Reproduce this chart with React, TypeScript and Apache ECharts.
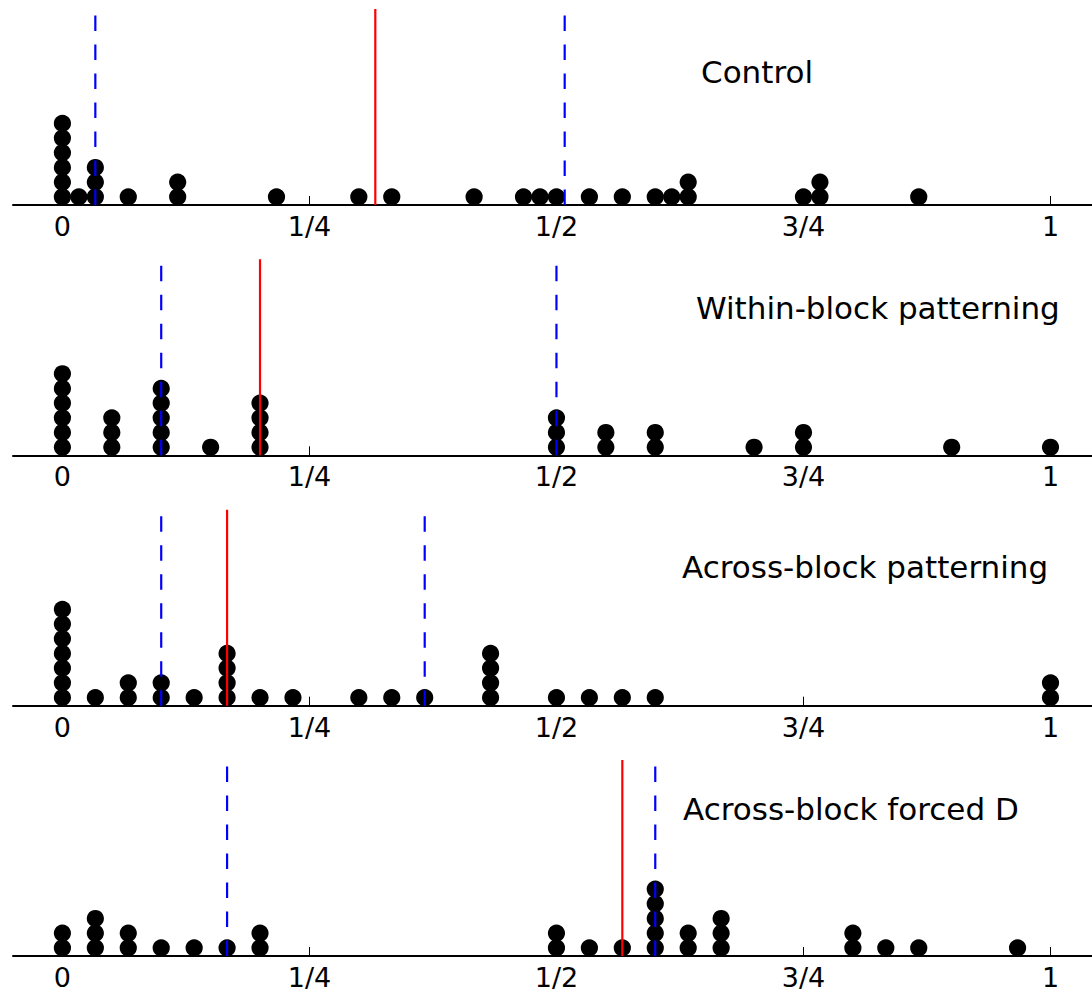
import React, { useEffect, useRef } from 'react';
import * as echarts from 'echarts';

// Titles of the four panels
const panelTitles = ['Control', 'Within-block patterning', 'Across-block patterning', 'Across-block forced D'];

// Dot positions, in sixtieths of the unit interval, and the number of stacked dots at each
const controlPositions = [0, 1, 2, 4, 7, 13, 18, 20, 25, 28, 29, 30, 32, 34, 36, 37, 38, 45, 46, 52];
const controlCounts = [6, 1, 3, 1, 2, 1, 1, 1, 1, 1, 1, 1, 1, 1, 1, 1, 2, 1, 2, 1];

const withinPositions = [0, 3, 6, 9, 12, 30, 33, 36, 42, 45, 54, 60];
const withinCounts = [6, 3, 5, 1, 4, 3, 2, 2, 1, 2, 1, 1];

const acrossPositions = [0, 2, 4, 6, 8, 10, 12, 14, 18, 20, 22, 26, 30, 32, 34, 36, 60];
const acrossCounts = [7, 1, 2, 2, 1, 4, 1, 1, 1, 1, 1, 4, 1, 1, 1, 1, 2];

const forcedPositions = [0, 2, 4, 6, 8, 10, 12, 30, 32, 34, 36, 38, 40, 48, 50, 52, 58];
const forcedCounts = [2, 3, 2, 1, 1, 1, 2, 2, 1, 1, 5, 2, 3, 2, 1, 1, 1];

// Reference lines (sixtieths): red solid median, blue dashed lower / upper
const medianLines = [19, 12, 10, 34];
const lowerLines = [2, 6, 6, 10];
const upperLines = [30.5, 30, 22, 36];

// x-axis ticks
const tickValues = [0, 0.25, 0.5, 0.75, 1];
const tickLabels = ['0', '1/4', '1/2', '3/4', '1'];

const DENOM = 60;

const panels = [
  { positions: controlPositions, counts: controlCounts },
  { positions: withinPositions, counts: withinCounts },
  { positions: acrossPositions, counts: acrossCounts },
  { positions: forcedPositions, counts: forcedCounts },
];

// layout
const FONT = '"DejaVu Sans", sans-serif';
const PANEL_STEP = 250.33;
const GRID_TOP0 = 9;
const GRID_H = 196;
const Y_MAX = GRID_H / 14.7;
const X_MIN = -0.05;
const X_MAX = 1.042;
const titleLayout = [
  { x: 701, y: 72 },
  { x: 696, y: 308 },
  { x: 682, y: 567 },
  { x: 683, y: 809 },
];

function buildOption() {
  const grid: any[] = [];
  const xAxis: any[] = [];
  const yAxis: any[] = [];
  const series: any[] = [];

  panels.forEach((p, i) => {
    grid.push({ left: 13, top: GRID_TOP0 + i * PANEL_STEP, width: 1079, height: GRID_H, containLabel: false });
    xAxis.push({
      gridIndex: i,
      type: 'value',
      min: X_MIN,
      max: X_MAX,
      axisLine: { show: true, onZero: false, lineStyle: { color: '#000', width: 2 } },
      axisTick: { show: true, inside: true, length: 9, customValues: tickValues, lineStyle: { color: '#000', width: 1 } },
      axisLabel: {
        show: true,
        customValues: tickValues,
        margin: 8,
        color: '#000',
        fontFamily: FONT,
        fontSize: 27,
        formatter: (v: number) => {
          const idx = tickValues.findIndex((t) => Math.abs(t - v) < 1e-9);
          return idx >= 0 ? tickLabels[idx] : '';
        },
      },
      splitLine: { show: false },
    });
    yAxis.push({ gridIndex: i, type: 'value', min: 0, max: Y_MAX, show: false });

    const pts: number[][] = [];
    p.positions.forEach((pos, j) => {
      for (let k = 0; k < p.counts[j]; k++) pts.push([pos / DENOM, k + 0.55]);
    });
    series.push({
      type: 'scatter',
      xAxisIndex: i,
      yAxisIndex: i,
      data: pts,
      symbol: 'circle',
      symbolSize: 17.2,
      itemStyle: { color: '#000', opacity: 1 },
      silent: true,
      z: 2,
    });

    const vline = (v: number, color: string, dashed: boolean) => ({
      type: 'line',
      xAxisIndex: i,
      yAxisIndex: i,
      data: [
        [v / DENOM, 0],
        [v / DENOM, Y_MAX],
      ],
      symbol: 'none',
      silent: true,
      lineStyle: { color, width: 2.2, type: dashed ? [15.5, 13.5] : 'solid' },
      z: 3,
    });
    series.push(vline(lowerLines[i], '#0000ff', true));
    series.push(vline(upperLines[i], '#0000ff', true));
    series.push(vline(medianLines[i], '#ff0000', false));
  });

  const graphic = panelTitles.map((t, i) => ({
    type: 'text',
    x: titleLayout[i].x,
    y: titleLayout[i].y,
    style: { text: t, font: `31px ${FONT}`, fill: '#000', verticalAlign: 'middle', align: 'left' },
  }));

  return {
    animation: false,
    backgroundColor: '#fff',
    grid,
    xAxis,
    yAxis,
    series,
    graphic,
  };
}

export default function App() {
  const ref = useRef<HTMLDivElement>(null);
  useEffect(() => {
    if (!ref.current) return;
    const chart = echarts.init(ref.current, undefined, { renderer: 'svg' });
    chart.setOption(buildOption() as any);
    return () => chart.dispose();
  }, []);
  return (
    <div
      ref={ref}
      style={{ position: 'absolute', left: 0, top: 0, width: 1092, height: 993, overflow: 'hidden', background: '#fff' }}
    />
  );
}
